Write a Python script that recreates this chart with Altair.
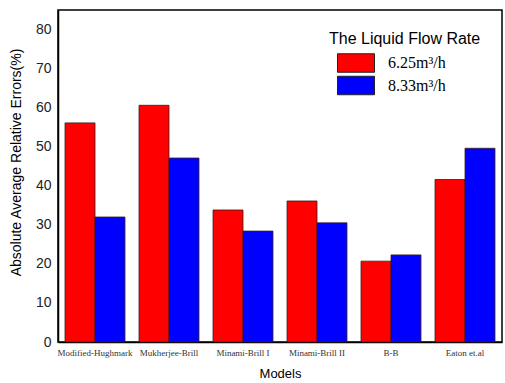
import altair as alt
import pandas as pd

# Average absolute relative error of each correlation at two liquid flow rates
models = ["Modified-Hughmark", "Mukherjee-Brill", "Minami-Brill I",
          "Minami-Brill II", "B-B", "Eaton et.al"]
rates = ["6.25m³/h", "8.33m³/h"]
err_625 = [56.1, 60.6, 33.8, 36.1, 20.7, 41.6]
err_833 = [32.0, 47.1, 28.4, 30.5, 22.3, 49.6]
y_ticks = [0, 10, 20, 30, 40, 50, 60, 70, 80]

rows = []
for m, a, b in zip(models, err_625, err_833):
    rows.append({"model": m, "rate": rates[0], "err": a})
    rows.append({"model": m, "rate": rates[1], "err": b})
df = pd.DataFrame(rows)

SANS = "Liberation Sans"
SERIF = "Liberation Serif"

bars = alt.Chart(df).mark_bar(stroke="#3a1a1a", strokeWidth=0.8).encode(
    x=alt.X("model:N", sort=models,
            scale=alt.Scale(paddingInner=0.19, paddingOuter=0.095),
            axis=alt.Axis(title="Models", labelAngle=0, ticks=False,
                          labelFont=SERIF, labelFontSize=9, labelColor="#333",
                          labelPadding=6, titleFont=SANS, titleFontSize=13,
                          titleFontWeight="normal", titlePadding=10,
                          domainColor="black", domainWidth=1.5)),
    xOffset=alt.XOffset("rate:N", sort=rates),
    y=alt.Y("err:Q", scale=alt.Scale(domain=[0, 85], nice=False),
            axis=alt.Axis(title="Absolute Average Relative Errors(%)",
                          values=y_ticks, ticks=False, grid=False,
                          labelFont=SANS, labelFontSize=14, labelColor="#222",
                          labelPadding=7, titleFont=SANS, titleFontSize=14,
                          titleFontWeight="normal", titlePadding=12,
                          titleY=152, domainColor="black", domainWidth=1.5)),
    color=alt.Color("rate:N", sort=rates,
                    scale=alt.Scale(domain=rates, range=["#ff0000", "#0000ff"]),
                    legend=alt.Legend(title="The Liquid Flow Rate",
                                      orient="none", legendX=271, legendY=21,
                                      titleFont=SANS, titleFontSize=16,
                                      titleFontWeight="normal", titleColor="black",
                                      titlePadding=6,
                                      labelFont=SERIF, labelFontSize=16,
                                      labelColor="black", labelOffset=22,
                                      # wide swatch: path spans 2:1 around the nominal symbol size
                                      symbolType="M-2,-1H2V1H-2Z",
                                      symbolSize=342, symbolStrokeColor="#222",
                                      symbolStrokeWidth=1, symbolOffset=17,
                                      symbolOpacity=1, rowPadding=-1.5)),
).properties(width=444, height=332)

chart = bars.configure_view(stroke="black", strokeWidth=1.5).properties(
    autosize=alt.AutoSizeParams(type="none"),
    padding={"left": 58, "top": 10, "right": 3, "bottom": 41},
    background="white",
)

chart.save("out.html", embed_options={"renderer": "svg", "actions": False})
